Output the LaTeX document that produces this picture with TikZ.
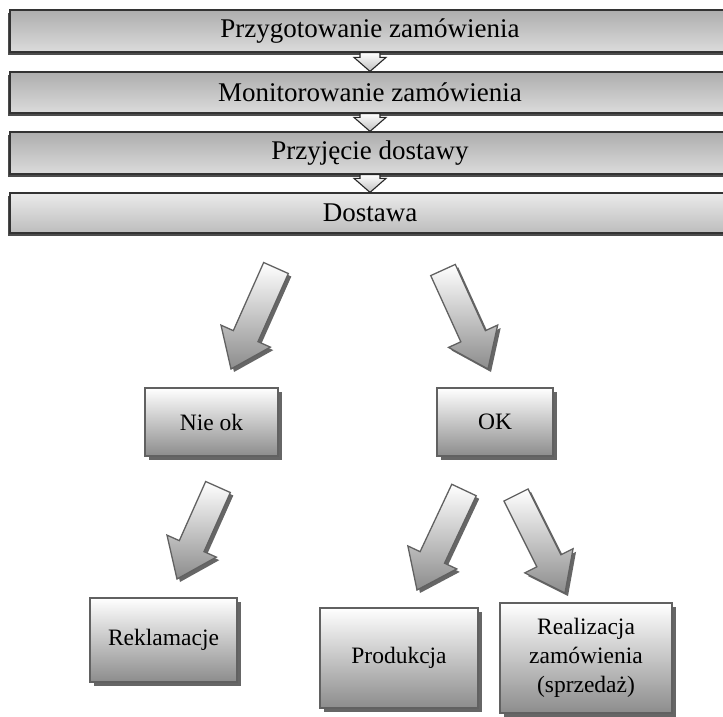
\documentclass[tikz,border=0pt]{standalone}
\usepackage{fontspec}
\setmainfont{Liberation Serif}
\usetikzlibrary{calc,shadows}
\tikzset{
  bar/.style={draw=black!80, line width=1.2pt, top color=black!32, bottom color=black!14,
    minimum width=720pt, inner sep=0pt, font=\fontsize{27}{29}\selectfont,
    drop shadow={shadow xshift=-2pt, shadow yshift=-3pt, fill=black!70, opacity=1}},
  lastbar/.style={bar, top color=black!8, bottom color=black!26},
  smallarrow/.style={draw=black!85, line width=1.1pt, top color=white, bottom color=black!25},
  box/.style={draw=black!62, line width=1.3pt, top color=white, bottom color=black!45,
    inner sep=0pt, align=center, font=\fontsize{23.5}{29}\selectfont,
    drop shadow={shadow xshift=4pt, shadow yshift=-4pt, fill=black!60, opacity=1}},
  bigarrow/.style={draw=black!62, line width=1.3pt, top color=white, bottom color=black!45,
    drop shadow={shadow xshift=3pt, shadow yshift=-3pt, fill=black!60, opacity=1}}
}
\newcommand{\blockarrow}[2]{%
  \coordinate (#1-neck) at ($(#2)!36pt!(#1)$);
  \path[bigarrow] ($(#1)!13.5pt!90:(#2)$) -- ($(#1-neck)!13.5pt!90:(#2)$)
    -- ($(#1-neck)!27pt!90:(#2)$) -- (#2) -- ($(#1-neck)!27pt!-90:(#2)$)
    -- ($(#1-neck)!13.5pt!-90:(#2)$) -- ($(#1)!13.5pt!-90:(#2)$) -- cycle;}
\begin{document}
\begin{tikzpicture}[x=1pt, y=-1pt]
  \clip (0,0) rectangle (723,716);
  \node[bar, minimum height=42pt] (prep) at (370,31) {Przygotowanie zamówienia};
  \node[bar, minimum height=41pt] (mon) at (370,92.5) {Monitorowanie zamówienia};
  \node[bar, minimum height=42pt] (recv) at (370,153) {Przyjęcie dostawy};
  \node[lastbar, minimum height=40pt] (deliv) at (370,213) {Dostawa};
  \foreach \a/\b in {prep/mon, mon/recv, recv/deliv}
    \path[smallarrow] ($(\a.south)+(-10,0)$) -- ($(\b.north)+(-10,-14)$)
      -- ($(\b.north)+(-16,-14)$) -- (\b.north) -- ($(\b.north)+(16,-14)$)
      -- ($(\b.north)+(10,-14)$) -- ($(\a.south)+(10,0)$) -- cycle;

  \node[box, minimum width=133pt, minimum height=68pt] (nieok) at (211.5,422) {Nie ok};
  \node[box, minimum width=116pt, minimum height=68pt] (ok) at (495,422) {OK};
  \node[box, minimum width=147pt, minimum height=84pt] (rekl) at (163.5,640) {Reklamacje};
  \node[box, minimum width=158pt, minimum height=100pt] (prod) at (399,658) {Produkcja};
  \node[box, minimum width=172pt, minimum height=110pt] (real) at (586,658)
    {Realizacja\\zamówienia\\(sprzedaż)};

  \coordinate (nieok-in) at (276,268);
  \coordinate (ok-in) at (443,270);
  \coordinate (rekl-in) at (218,487);
  \coordinate (prod-in) at (464,490);
  \coordinate (real-in) at (516,495);
  \coordinate (nieok-tip) at (231,369);
  \coordinate (ok-tip) at (488,369);
  \coordinate (rekl-tip) at (177,579);
  \coordinate (prod-tip) at (417,590);
  \coordinate (real-tip) at (565,593);
  \foreach \n in {nieok, ok, rekl, prod, real}
    {\blockarrow{\n-in}{\n-tip}}
\end{tikzpicture}
\end{document}
